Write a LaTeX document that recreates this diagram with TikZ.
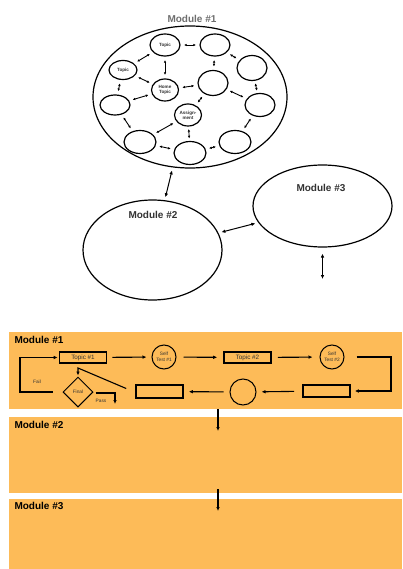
\documentclass[tikz,border=0pt]{standalone}
\usepackage{fontspec}
\setmainfont{Liberation Sans}
\usetikzlibrary{arrows.meta,shapes.geometric,positioning}
\definecolor{panelorange}{RGB}{253,187,88}
\definecolor{inkgrey}{RGB}{50,50,50}
\definecolor{softgrey}{RGB}{110,110,110}

\begin{document}
\begin{tikzpicture}[x=1pt, y=-1pt,
          module/.style={ellipse,draw,line width=1.2pt,inner sep=0pt},
          ring/.style={ellipse,draw,line width=1.2pt,minimum width=30pt,minimum height=22pt,inner sep=0pt,
                       align=center,text=inkgrey,font=\fontsize{4.6}{5}\selectfont\bfseries},
          link/.style={{Latex[length=2.6pt,width=2.6pt]}-{Latex[length=2.6pt,width=2.6pt]},line width=0.9pt,shorten <=3.5pt,shorten >=3.5pt},
          biglink/.style={{Latex[length=4pt,width=3.6pt]}-{Latex[length=4pt,width=3.6pt]},line width=1pt,shorten <=3pt,shorten >=3pt},
          panel/.style={rectangle,fill=panelorange,minimum width=393pt,inner sep=0pt},
          stepbox/.style={rectangle,draw,line width=1.6pt,minimum width=47pt,minimum height=11pt,inner sep=0pt,
                          text=inkgrey,font=\fontsize{6.3}{7}\selectfont},
          testcirc/.style={circle,draw,line width=1pt,minimum size=24pt,inner sep=0pt,align=center,
                           text=inkgrey,font=\fontsize{4.8}{5.6}\selectfont},
          flow/.style={-{Latex[length=4pt,width=3.6pt]},line width=1.1pt},
          lbl/.style={text=inkgrey,font=\fontsize{4.8}{5.6}\selectfont},
          title/.style={anchor=west,font=\fontsize{10}{12}\selectfont\bfseries}]
        \useasboundingbox (0,0) rectangle (402,569);

        % modules drawn as bubbles
        \node[module,minimum width=194pt,minimum height=142pt] (m1) at (190,97) {};
        \node[module,minimum width=139pt,minimum height=100pt] (m2) at (152.5,250) {};
        \node[module,minimum width=139pt,minimum height=82pt] (m3) at (322.5,206) {};
        \node[text=softgrey,font=\fontsize{10}{12}\selectfont\bfseries] (m1lbl) at (192,19) {Module \#1};
        \node[text=inkgrey,font=\fontsize{10}{12}\selectfont\bfseries] (m2lbl) at (153,215) {Module \#2};
        \node[text=inkgrey,font=\fontsize{10}{12}\selectfont\bfseries] (m3lbl) at (321,188) {Module \#3};

        \node[ring] (topicA) at (165,45) {Topic};
        \node[ring] (ringNE) at (215,45) {};
        \node[ring,minimum width=28pt,minimum height=19pt] (topicB) at (123,70) {Topic};
        \node[ring,minimum height=25pt] (ringE1) at (252,68) {};
        \node[ring,minimum width=27pt] (home) at (165,90) {Home\\Topic};
        \node[ring,minimum height=25pt] (hub) at (213,83) {};
        \node[ring,minimum height=20pt] (ringW) at (115,105) {};
        \node[ring,minimum height=23pt] (ringE2) at (260,105) {};
        \node[ring,minimum width=27pt] (assign) at (188,115) {Assign-\\ment};
        \node[ring,minimum width=32pt,minimum height=23pt] (ringSW) at (140,142) {};
        \node[ring,minimum width=32pt,minimum height=23pt] (ringSE) at (235,142) {};
        \node[ring,minimum width=32pt,minimum height=23pt] (ringS) at (190,153) {};

        \draw[link] (topicA) -- (ringNE); \draw[link] (topicA) -- (home);
        \draw[link] (topicA) -- (topicB); \draw[link] (ringNE) -- (hub);
        \draw[link] (ringNE) -- (ringE1); \draw[link] (topicB) -- (home);
        \draw[link] (topicB) -- (ringW); \draw[link] (home) -- (hub);
        \draw[link] (home) -- (ringW); \draw[link] (hub) -- (assign);
        \draw[link] (hub) -- (ringE2); \draw[link,shorten <=2.5pt,shorten >=2.5pt] (ringE1) -- (ringE2);
        \draw[link] (ringW) -- (ringSW); \draw[link] (ringSW) -- (assign);
        \draw[link] (ringSW) -- (ringS); \draw[link,shorten <=2.5pt,shorten >=2.5pt] (assign) -- (ringS);
        \draw[link] (ringE2) -- (ringSE); \draw[link] (ringSE) -- (ringS);

        \coordinate (m3out) at (322.5,279);
        \draw[biglink] (m1) -- (m2);
        \draw[biglink] (m2) -- (m3);
        \draw[biglink,shorten <=6pt,shorten >=0pt] (m3) -- (m3out);

        % the same course as stacked panels
        \node[panel,minimum height=77pt] (p1) at (205.5,370.5) {};
        \node[panel,minimum height=76pt] (p2) at (205.5,455) {};
        \node[panel,minimum height=73pt] (p3) at (205.5,535.5) {};
        \node[title] (p1lbl) at (11,340) {Module \#1};
        \node[title] (p2lbl) at (11,425) {Module \#2};
        \node[title] (p3lbl) at (11,506) {Module \#3};

        \node[stepbox] (t1) at (83,357.5) {Topic \#1};
        \node[testcirc] (s1) at (164,357) {Self\\Test \#1};
        \node[stepbox] (t2) at (247.5,357.5) {Topic \#2};
        \node[testcirc] (s2) at (332,357) {Self\\Test \#2};
        \node[stepbox,minimum height=12pt] (r3) at (326.5,391) {};
        \node[circle,draw,line width=1pt,minimum size=26pt] (c3) at (243,392) {};
        \node[stepbox,minimum height=13pt] (r2) at (159.5,391.5) {};
        \node[diamond,draw,line width=1pt,minimum width=30pt,minimum height=30pt,inner sep=0pt,lbl] (fin) at (78,392) {Final};

        \coordinate (bend) at (391,374);
        \coordinate (back) at (78,368);
        \coordinate (failturn) at (20,375);
        \coordinate (passend) at (115,404);

        \draw[flow,shorten <=5pt,shorten >=5pt] (t1) -- (s1);
        \draw[flow,shorten <=7pt,shorten >=6pt] (s1) -- (t2);
        \draw[flow,shorten <=6pt,shorten >=7pt] (t2) -- (s2);
        \draw[flow,shorten >=4pt] (s2.east) ++(12,0) -| (bend) |- (r3.east);
        \draw[flow,shorten <=8pt,shorten >=5pt] (r3) -- (c3);
        \draw[flow,shorten <=6pt,shorten >=5pt] (c3) -- (r2);
        \draw[flow,shorten >=1pt] (r2.west) ++(-9,-3) -- (back) -- (fin.north);
        \draw[flow,shorten >=1pt] (fin.west) ++(-10,0) -| (failturn) |- (t1.west);
        \draw[flow] (fin.east) ++(2,1) -| (passend);
        \node[lbl] (faillbl) at (37,382) {Fail};
        \node[lbl] (passlbl) at (101,401) {Pass};

        \coordinate (d1) at (218,431);
        \coordinate (d2) at (218,511);
        \draw[flow] (p1.south -| d1) -- (d1);
        \draw[flow] (p2.south -| d2) ++(0,-4) -- (d2);
      \end{tikzpicture}
\end{document}
